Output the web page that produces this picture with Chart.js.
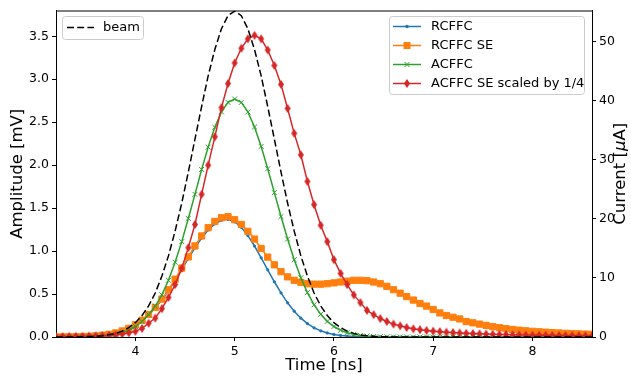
<!DOCTYPE html>
<html>
<head>
<meta charset="utf-8">
<script src="https://cdn.jsdelivr.net/npm/chart.js@4.4.0/dist/chart.umd.min.js"></script>
<style>
  html, body { margin: 0; padding: 0; background: #fff; }
  #wrap { width: 631px; height: 376px; }
</style>
</head>
<body>
<div id="wrap"><canvas id="c" width="631" height="376"></canvas></div>
<script>
// sample times [ns]
const times = [
  3.2, 3.267, 3.333, 3.4, 3.467, 3.533, 3.6, 3.667, 3.733, 3.8, 3.867, 3.933,
  4.0, 4.067, 4.133, 4.2, 4.267, 4.333, 4.4, 4.467, 4.533, 4.6, 4.667, 4.733, 4.8, 4.867, 4.933,
  5.0, 5.067, 5.133, 5.2, 5.267, 5.333, 5.4, 5.467, 5.533, 5.6, 5.667, 5.733, 5.8, 5.867, 5.933,
  6.0, 6.067, 6.133, 6.2, 6.267, 6.333, 6.4, 6.467, 6.533, 6.6, 6.667, 6.733, 6.8, 6.867, 6.933,
  7.0, 7.067, 7.133, 7.2, 7.267, 7.333, 7.4, 7.467, 7.533, 7.6, 7.667, 7.733, 7.8, 7.867, 7.933,
  8.0, 8.067, 8.133, 8.2, 8.267, 8.333, 8.4, 8.467, 8.533, 8.6
];

// amplitudes [mV], left axis
const rcffc = [
  0.001, 0.001, 0.001, 0.003, 0.005, 0.008, 0.012, 0.020, 0.030, 0.046, 0.068, 0.099,
  0.139, 0.192, 0.257, 0.337, 0.432, 0.539, 0.660, 0.786, 0.913, 1.038, 1.152, 1.246, 1.317, 1.359, 1.370,
  1.341, 1.276, 1.180, 1.059, 0.922, 0.782, 0.643, 0.513, 0.398, 0.300, 0.219, 0.156, 0.107, 0.072, 0.047,
  0.030, 0.018, 0.011, 0.006, 0.004, 0.002, 0.001, 0.001, 0, 0, 0, 0, 0, 0, 0,
  0, 0, 0, 0, 0, 0, 0, 0, 0, 0, 0, 0, 0, 0, 0,
  0, 0, 0, 0, 0, 0, 0, 0, 0, 0
];
const rcffcSE = [
  0.001, 0.001, 0.002, 0.003, 0.005, 0.008, 0.013, 0.021, 0.031, 0.047, 0.070, 0.101,
  0.142, 0.196, 0.262, 0.344, 0.441, 0.550, 0.673, 0.802, 0.932, 1.060, 1.176, 1.272, 1.345, 1.388, 1.400,
  1.365, 1.31, 1.23, 1.14, 1.03, 0.93, 0.84, 0.76, 0.70, 0.66, 0.635, 0.62, 0.615, 0.615, 0.62,
  0.63, 0.64, 0.65, 0.66, 0.66, 0.655, 0.64, 0.62, 0.59, 0.55, 0.51, 0.47, 0.43, 0.39, 0.36,
  0.32, 0.28, 0.25, 0.23, 0.21, 0.18, 0.165, 0.15, 0.135, 0.12, 0.108, 0.097, 0.088, 0.079, 0.072,
  0.066, 0.061, 0.056, 0.051, 0.047, 0.043, 0.040, 0.037, 0.034, 0.032
];
const acffc = [
  0, 0, 0, 0.001, 0.002, 0.003, 0.006, 0.011, 0.018, 0.031, 0.050, 0.079,
  0.122, 0.18, 0.26, 0.36, 0.49, 0.66, 0.87, 1.11, 1.38, 1.66, 1.95, 2.21, 2.44, 2.62, 2.73,
  2.77, 2.73, 2.62, 2.444, 2.218, 1.958, 1.68, 1.402, 1.14, 0.899, 0.69, 0.517, 0.375, 0.264, 0.182,
  0.122, 0.079, 0.05, 0.031, 0.018, 0.011, 0.006, 0.003, 0.002, 0.001, 0, 0, 0, 0, 0,
  0, 0, 0, 0, 0, 0, 0, 0, 0, 0, 0, 0, 0, 0, 0,
  0, 0, 0, 0, 0, 0, 0, 0, 0, 0
];
// already divided by 4
const acffcSE = [
  0.005, 0.005, 0.006, 0.007, 0.008, 0.010, 0.012, 0.015, 0.019, 0.025, 0.034, 0.047,
  0.066, 0.10, 0.16, 0.22, 0.33, 0.46, 0.61, 0.80, 1.04, 1.31, 1.66, 2.00, 2.33, 2.67, 2.95,
  3.19, 3.36, 3.47, 3.51, 3.47, 3.34, 3.16, 2.94, 2.66, 2.37, 2.12, 1.81, 1.54, 1.30, 1.11,
  0.90, 0.74, 0.61, 0.49, 0.40, 0.31, 0.26, 0.215, 0.18, 0.15, 0.13, 0.11, 0.095, 0.085, 0.075,
  0.068, 0.062, 0.056, 0.051, 0.047, 0.043, 0.040, 0.037, 0.034, 0.032, 0.030, 0.028, 0.026, 0.024, 0.022,
  0.021, 0.020, 0.019, 0.018, 0.017, 0.016, 0.015, 0.014, 0.013, 0.012
];
// beam current [uA], right axis
const beam = [
  0.002, 0.005, 0.009, 0.019, 0.036, 0.066, 0.121, 0.215, 0.364, 0.613, 0.999, 1.573,
  2.423, 3.638, 5.266, 7.452, 10.32, 13.74, 17.94, 22.69, 27.93, 33.51, 39.03, 44.22, 48.69, 52.22, 54.43,
  55.2, 54.43, 52.22, 48.69, 44.22, 39.03, 33.51, 27.93, 22.69, 17.94, 13.74, 10.32, 7.452, 5.266, 3.638,
  2.423, 1.573, 0.999, 0.613, 0.364, 0.215, 0.121, 0.066, 0.036, 0.019, 0.009, 0.005, 0.002, 0.001, 0,
  0, 0, 0, 0, 0, 0, 0, 0, 0, 0, 0, 0, 0, 0, 0,
  0, 0, 0, 0, 0, 0, 0, 0, 0, 0
];

const timeTicks = [4, 5, 6, 7, 8];
const ampTicks = [0, 0.5, 1.0, 1.5, 2.0, 2.5, 3.0, 3.5];
const currTicks = [0, 10, 20, 30, 40, 50];

const BLUE = '#1f77b4', ORANGE = '#ff7f0e', GREEN = '#2ca02c', RED = '#d62728';
const FONT = "'DejaVu Sans', sans-serif";
const DASH = [7, 3.2];

const pts = arr => times.map((t, i) => ({ x: t, y: arr[i] }));

// matplotlib-style thin diamond ('d')
function thinDiamond(color, w, h) {
  const c = document.createElement('canvas');
  c.width = w + 2; c.height = h + 2;
  const g = c.getContext('2d');
  const cx = c.width / 2, cy = c.height / 2;
  g.fillStyle = color;
  g.beginPath();
  g.moveTo(cx, cy - h / 2); g.lineTo(cx + w / 2, cy);
  g.lineTo(cx, cy + h / 2); g.lineTo(cx - w / 2, cy);
  g.closePath(); g.fill();
  return c;
}
const redDiamond = thinDiamond(RED, 6, 9);

function drawMarker(ctx, kind, x, y, color) {
  ctx.save();
  ctx.fillStyle = color; ctx.strokeStyle = color; ctx.lineWidth = 1;
  if (kind === 'dot') {
    ctx.beginPath(); ctx.arc(x, y, 1.8, 0, Math.PI * 2); ctx.fill();
  } else if (kind === 'square') {
    ctx.fillRect(x - 3.5, y - 3.5, 7, 7);
  } else if (kind === 'x') {
    ctx.beginPath();
    ctx.moveTo(x - 2.5, y - 2.5); ctx.lineTo(x + 2.5, y + 2.5);
    ctx.moveTo(x + 2.5, y - 2.5); ctx.lineTo(x - 2.5, y + 2.5);
    ctx.stroke();
  } else if (kind === 'diamond') {
    ctx.drawImage(redDiamond, x - redDiamond.width / 2, y - redDiamond.height / 2);
  }
  ctx.restore();
}

function legendBox(ctx, x, y, w, h) {
  const r = 3;
  ctx.save();
  ctx.beginPath();
  ctx.moveTo(x + r, y);
  ctx.arcTo(x + w, y, x + w, y + h, r);
  ctx.arcTo(x + w, y + h, x, y + h, r);
  ctx.arcTo(x, y + h, x, y, r);
  ctx.arcTo(x, y, x + w, y, r);
  ctx.closePath();
  ctx.fillStyle = 'rgba(255,255,255,0.8)';
  ctx.fill();
  ctx.strokeStyle = '#cccccc';
  ctx.lineWidth = 1;
  ctx.stroke();
  ctx.restore();
}

const extras = {
  id: 'extras',
  afterDraw(chart) {
    const ctx = chart.ctx;
    const a = chart.chartArea;
    ctx.save();
    // top spine
    ctx.strokeStyle = '#000'; ctx.lineWidth = 1;
    ctx.beginPath(); ctx.moveTo(a.left, a.top + 0.5); ctx.lineTo(a.right, a.top + 0.5); ctx.stroke();

    // right axis title, reading bottom to top, italic mu
    ctx.save();
    ctx.translate(621, (a.top + a.bottom) / 2);
    ctx.rotate(-Math.PI / 2);
    ctx.fillStyle = '#000';
    ctx.textBaseline = 'middle';
    const parts = [['Current [', '16.5px '], ['\u03bc', 'italic 16.5px '], ['A]', '16.5px ']];
    let total = 0;
    parts.forEach(p => { ctx.font = p[1] + FONT; total += ctx.measureText(p[0]).width; });
    let px = -total / 2;
    parts.forEach(p => {
      ctx.font = p[1] + FONT;
      ctx.fillText(p[0], px, 0);
      px += ctx.measureText(p[0]).width;
    });
    ctx.restore();

    ctx.font = '13px ' + FONT;
    ctx.textBaseline = 'middle';

    // left legend: beam
    legendBox(ctx, 62.5, 16.5, 81, 23);
    ctx.strokeStyle = '#000'; ctx.lineWidth = 1.5; ctx.setLineDash(DASH);
    ctx.beginPath(); ctx.moveTo(67, 27.5); ctx.lineTo(94, 27.5); ctx.stroke();
    ctx.setLineDash([]);
    ctx.fillStyle = '#000';
    ctx.fillText('beam', 103, 28);

    // right legend
    legendBox(ctx, 389.5, 16.5, 195, 78);
    const entries = [
      ['RCFFC', BLUE, 'dot'],
      ['RCFFC SE', ORANGE, 'square'],
      ['ACFFC', GREEN, 'x'],
      ['ACFFC SE scaled by 1/4', RED, 'diamond']
    ];
    entries.forEach((e, i) => {
      const y = 26.5 + i * 19;
      ctx.strokeStyle = e[1]; ctx.lineWidth = 1.5;
      ctx.beginPath(); ctx.moveTo(393, y); ctx.lineTo(421, y); ctx.stroke();
      drawMarker(ctx, e[2], 407, y, e[1]);
      ctx.fillStyle = '#000';
      ctx.fillText(e[0], 431, y + 0.5);
    });
    ctx.restore();
  }
};

const tickFont = { family: FONT, size: 12.5 };
const titleFont = { family: FONT, size: 16.5 };

new Chart(document.getElementById('c'), {
  type: 'line',
  data: {
    datasets: [
      { label: 'beam', data: pts(beam), yAxisID: 'yR', borderColor: '#000', borderWidth: 1.5,
        borderDash: DASH, pointRadius: 0 },
      { label: 'ACFFC SE scaled by 1/4', data: pts(acffcSE), yAxisID: 'y', borderColor: RED, borderWidth: 1.5,
        pointStyle: redDiamond, pointRadius: 4 },
      { label: 'ACFFC', data: pts(acffc), yAxisID: 'y', borderColor: GREEN, borderWidth: 1.5,
        pointStyle: 'crossRot', pointRadius: 3.5, pointBorderWidth: 1, pointBorderColor: GREEN },
      { label: 'RCFFC SE', data: pts(rcffcSE), yAxisID: 'y', borderColor: ORANGE, borderWidth: 1.5,
        pointStyle: 'rect', pointRadius: 4.4, pointBorderWidth: 1,
        pointBackgroundColor: ORANGE, pointBorderColor: ORANGE },
      { label: 'RCFFC', data: pts(rcffc), yAxisID: 'y', borderColor: BLUE, borderWidth: 1.5,
        pointStyle: 'circle', pointRadius: 1.6, pointBorderWidth: 0,
        pointBackgroundColor: BLUE }
    ]
  },
  options: {
    responsive: false,
    animation: false,
    devicePixelRatio: 1,
    layout: { padding: { top: 10, left: 0, right: 0, bottom: 0 } },
    plugins: { legend: { display: false }, tooltip: { enabled: false } },
    scales: {
      x: {
        type: 'linear', min: 3.2, max: 8.6,
        afterBuildTicks: s => { s.ticks = timeTicks.map(v => ({ value: v })); },
        afterFit: s => { s.height = 39; },
        ticks: { font: tickFont, color: '#000', padding: 3, maxRotation: 0,
                 callback: v => String(v) },
        grid: { drawOnChartArea: false, color: '#000', tickLength: 4 },
        border: { display: true, color: '#000', width: 1 },
        title: { display: true, text: 'Time [ns]', font: titleFont, color: '#000',
                 padding: { top: 0, bottom: 0 } }
      },
      y: {
        type: 'linear', position: 'left', min: 0, max: 3.8,
        afterBuildTicks: s => { s.ticks = ampTicks.map(v => ({ value: v })); },
        afterFit: s => { s.width = 56; },
        ticks: { font: tickFont, color: '#000', padding: 3, callback: v => v.toFixed(1) },
        grid: { drawOnChartArea: false, color: '#000', tickLength: 4 },
        border: { display: true, color: '#000', width: 1 },
        title: { display: true, text: 'Amplitude [mV]', font: titleFont, color: '#000',
                 padding: { top: 8, bottom: 0 } }
      },
      yR: {
        type: 'linear', position: 'right', min: 0, max: 55.3,
        afterBuildTicks: s => { s.ticks = currTicks.map(v => ({ value: v })); },
        afterFit: s => { s.width = 39; },
        ticks: { font: tickFont, color: '#000', padding: 3, callback: v => String(v) },
        grid: { drawOnChartArea: false, color: '#000', tickLength: 4 },
        border: { display: true, color: '#000', width: 1 },
        title: { display: false }
      }
    }
  },
  plugins: [extras]
});
</script>
</body>
</html>
